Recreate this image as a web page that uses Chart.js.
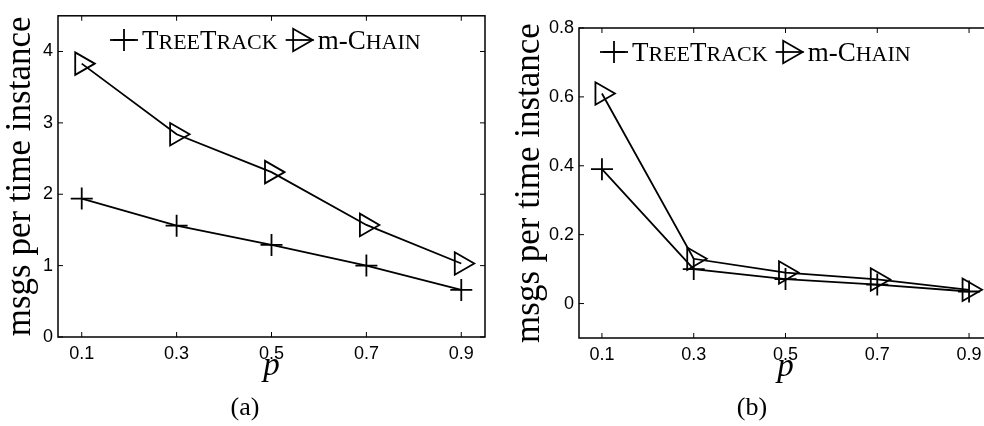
<!DOCTYPE html>
<html>
<head>
<meta charset="utf-8">
<script src="https://cdn.jsdelivr.net/npm/chart.js@4.4.0/dist/chart.umd.min.js"></script>
<style>
  html, body { margin: 0; padding: 0; background: #fff; width: 984px; height: 426px; overflow: hidden; }
  .panel { position: absolute; top: 0; }
  .panel canvas { display: block; }
  .cap { position: absolute; top: 394px; width: 100px; text-align: center; font: 26px/26px "Liberation Serif", "Times New Roman", serif; color: #000; }
</style>
</head>
<body>
<div class="panel" style="left:0"><canvas id="chartA" width="490" height="395"></canvas></div>
<div class="panel" style="left:490px"><canvas id="chartB" width="510" height="396"></canvas></div>
<div class="cap" style="left:195px">(a)</div>
<div class="cap" style="left:702px">(b)</div>
<script>
const pValues = [0.1, 0.3, 0.5, 0.7, 0.9];
const xTicks = [0.1, 0.3, 0.5, 0.7, 0.9];

// panel (a)
const treeTrackA = [1.94, 1.56, 1.29, 1.00, 0.66];
const mChainA = [3.83, 2.84, 2.31, 1.57, 1.03];
const yTicksA = [0, 1, 2, 3, 4];

// panel (b)
const treeTrackB = [0.39, 0.10, 0.071, 0.055, 0.035];
const mChainB = [0.61, 0.13, 0.09, 0.07, 0.04];
const yTicksB = [0, 0.2, 0.4, 0.6, 0.8];

const serif = '"Liberation Serif", "Times New Roman", serif';
const sans = '"Liberation Sans", Arial, sans-serif';

function drawMarker(ctx, style, x, y) {
    ctx.beginPath();
    if (style === 'cross') {
        ctx.moveTo(x - 11, y); ctx.lineTo(x + 11, y);
        ctx.moveTo(x, y - 11); ctx.lineTo(x, y + 11);
    } else {
        const r = 13;
        for (let k = 0; k < 3; k++) {
            const a = Math.PI / 2 + k * 2 * Math.PI / 3;
            const px = x + Math.sin(a) * r, py = y - Math.cos(a) * r;
            if (k === 0) ctx.moveTo(px, py); else ctx.lineTo(px, py);
        }
        ctx.closePath();
    }
    ctx.stroke();
}

// small caps by hand: text before the first capital stays as is
function drawSmallCaps(ctx, text, x, y) {
    const start = text.search(/[A-Z]/);
    let cx = x;
    for (let i = 0; i < text.length; i++) {
        const ch = text[i];
        const small = i >= start && /[a-z]/.test(ch);
        ctx.font = (small ? '22px ' : '27px ') + serif;
        const s = i >= start ? ch.toUpperCase() : ch;
        ctx.fillText(s, cx, y);
        cx += ctx.measureText(s).width;
    }
    return cx;
}

const framePlugin = {
    id: 'frame',
    afterDatasetsDraw(chart, args, opts) {
        const { ctx, chartArea: a, scales: { x, y } } = chart;
        ctx.save();
        ctx.strokeStyle = '#000';
        ctx.lineWidth = 1.5;
        ctx.strokeRect(a.left, a.top, a.right - a.left, a.bottom - a.top);
        ctx.beginPath();
        x.ticks.forEach(t => {
            const px = x.getPixelForValue(t.value);
            ctx.moveTo(px, a.bottom); ctx.lineTo(px, a.bottom - 5);
            ctx.moveTo(px, a.top); ctx.lineTo(px, a.top + 5);
        });
        y.ticks.forEach(t => {
            const py = y.getPixelForValue(t.value);
            ctx.moveTo(a.left, py); ctx.lineTo(a.left + 5, py);
            ctx.moveTo(a.right, py); ctx.lineTo(a.right - 5, py);
        });
        ctx.lineWidth = 1;
        ctx.stroke();

        // legend, matlab style without box
        let lx = opts.legendX;
        const ly = opts.legendY;
        ctx.lineWidth = 1.8;
        ctx.fillStyle = '#000';
        ctx.textBaseline = 'alphabetic';
        chart.data.datasets.forEach(ds => {
            ctx.beginPath();
            ctx.moveTo(lx, ly); ctx.lineTo(lx + 28, ly);
            ctx.stroke();
            drawMarker(ctx, ds.pointStyle, lx + 14, ly);
            const end = drawSmallCaps(ctx, ds.label, lx + 32, ly + 9);
            lx = end + 8;
        });
        ctx.restore();
    }
};

function series(label, ys, style) {
    return {
        label: label,
        data: pValues.map((p, i) => ({ x: p, y: ys[i] })),
        borderColor: '#000',
        borderWidth: 1.8,
        pointStyle: style,
        pointRadius: style === 'triangle' ? 13 : 11,
        pointRotation: style === 'triangle' ? 90 : 0,
        pointBorderColor: '#000',
        pointBorderWidth: 1.8,
        pointBackgroundColor: 'rgba(0,0,0,0)',
        tension: 0,
        fill: false,
        clip: false
    };
}

function makeChart(id, tree, chain, yTicks, yMin, yMax, cfg) {
    new Chart(document.getElementById(id), {
        type: 'line',
        data: {
            datasets: [series('TreeTrack', tree, 'cross'), series('m-Chain', chain, 'triangle')]
        },
        options: {
            responsive: false,
            animation: false,
            layout: { autoPadding: false, padding: { left: cfg.padLeft, right: cfg.padRight, top: cfg.padTop, bottom: 0 } },
            plugins: {
                legend: { display: false },
                tooltip: { enabled: false },
                frame: { legendX: cfg.legendX, legendY: cfg.legendY }
            },
            scales: {
                x: {
                    type: 'linear',
                    min: 0.05,
                    max: 0.95,
                    afterBuildTicks: s => { s.ticks = xTicks.map(v => ({ value: v })); },
                    afterFit: s => { s.height = 58; },
                    grid: { display: false, drawTicks: false },
                    border: { display: false },
                    ticks: { color: '#000', padding: 6, font: { family: sans, size: 18 }, callback: v => String(v) },
                    title: { display: true, text: 'p', color: '#000', padding: { top: 0, bottom: 9 },
                             font: { family: serif, size: 33, style: 'italic' } }
                },
                y: {
                    type: 'linear',
                    min: yMin,
                    max: yMax,
                    afterBuildTicks: s => { s.ticks = yTicks.map(v => ({ value: v })); },
                    afterFit: s => { s.width = cfg.yWidth; },
                    grid: { display: false, drawTicks: false },
                    border: { display: false },
                    ticks: { color: '#000', padding: 5, font: { family: sans, size: 18 }, callback: v => String(v) },
                    title: { display: true, text: 'msgs per time instance', color: '#000', padding: { top: 0, bottom: 0 },
                             font: { family: serif, size: 35 } }
                }
            }
        },
        plugins: [framePlugin]
    });
}

makeChart('chartA', treeTrackA, mChainA, yTicksA, 0, 4.5,
    { padLeft: 0, padRight: 5, padTop: 15, yWidth: 58, legendX: 110, legendY: 40 });
makeChart('chartB', treeTrackB, mChainB, yTicksB, -0.1, 0.8,
    { padLeft: 19, padRight: 8, padTop: 28, yWidth: 70, legendX: 110, legendY: 52 });
</script>
</body>
</html>
